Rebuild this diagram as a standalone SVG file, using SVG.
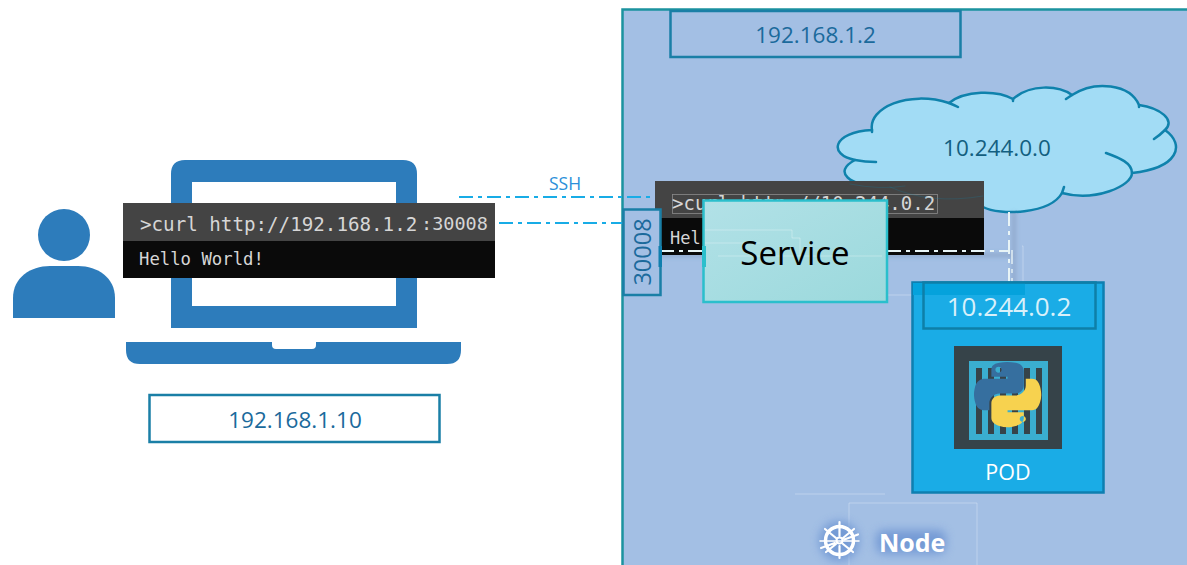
<svg xmlns="http://www.w3.org/2000/svg" width="1187" height="565" viewBox="0 0 1187 565">
<style>
text{font-family:"Open Sans","Noto Sans","Liberation Sans",sans-serif}
.mono{font-family:"DejaVu Sans Mono","Liberation Mono",monospace;fill:#d6d6d6}
.addr{fill:none;stroke:#1a7fa6;stroke-width:2.5}
.addrt{font-size:22.5px;fill:#1b6a9c;text-anchor:middle}
.blue{fill:#2d7cbb}
.dd{fill:none;stroke:#18ace6;stroke-width:2;stroke-dasharray:14 5 4 5}
.wd{fill:none;stroke:#e8f4f6;stroke-width:2;stroke-dasharray:14 5 4 5}
.faint{fill:none;stroke:#fff;stroke-opacity:.3;stroke-width:1}
.cl{fill:none;stroke:#0f82ac;stroke-width:2.5;stroke-linecap:round}
</style>
<defs>
<linearGradient id="svc" x1="0" y1="0" x2="1" y2="1"><stop offset="0" stop-color="#b2e1e7"/><stop offset="1" stop-color="#9bd9dc"/></linearGradient>
<filter id="glow" x="-30%" y="-50%" width="160%" height="200%"><feGaussianBlur stdDeviation="5"/></filter>
<filter id="sh" x="-10%" y="-10%" width="120%" height="130%"><feGaussianBlur stdDeviation="2"/></filter>
</defs>
<rect width="1187" height="565" fill="#fff"/>

<g id="node-host">
<rect x="622.5" y="9.5" width="570" height="570" fill="#a3bfe4" stroke="#1b939f" stroke-width="2.5"/>
<path class="faint" d="M795 494H885M849 565V503H977V565"/>
</g>

<g id="node-ip-host">
<rect class="addr" x="670.5" y="11" width="290" height="46"/>
<text class="addrt" x="815.5" y="43">192.168.1.2</text>
</g>

<g id="node-user">
<circle class="blue" cx="64" cy="235" r="26"/>
<path class="blue" d="M13 318V298C13 278 30 266 50 266H78C98 266 115 278 115 298V318Z"/>
</g>

<g id="node-laptop">
<path class="blue" fill-rule="evenodd" d="M171 328V174Q171 160 185 160H403Q417 160 417 174V328ZM192 182V306H396V182Z"/>
<path class="blue" d="M126 342H272V345Q272 349 276 349H312Q316 349 316 345V342H461V350Q461 364 447 364H140Q126 364 126 350Z"/>
</g>

<g id="node-terminal-client">
<rect x="123" y="203" width="372" height="38" fill="#444"/>
<rect x="123" y="241" width="372" height="37" fill="#0a0a0a"/>
<text class="mono" x="140" y="231" font-size="19.200">&gt;curl http://192.168.1.2</text>
<text class="mono" x="421" y="230" font-size="18.500">:30008</text>
<text class="mono" x="139" y="265" font-size="17.300">Hello World!</text>
</g>

<g id="node-ip-client">
<rect class="addr" x="149.5" y="395" width="290" height="47"/>
<text class="addrt" x="295" y="428">192.168.1.10</text>
</g>

<g id="node-cloud">
<path d="M872 130C868 108 908 90 949 103C965 90 997 90 1013 99C1030 84 1058 85 1072 95C1095 80 1130 84 1139 105C1160 108 1176 120 1165 130C1186 145 1178 168 1132 173C1132 186 1095 202 1062 193C1050 214 1000 216 983 207C940 214 900 206 880 186C850 186 832 172 855 160C828 155 832 132 872 130Z" fill="#a2dcf5" stroke="#0f82ac" stroke-width="2.500" stroke-linejoin="round"/>
<path class="cl" d="M949 103Q954 105 958 107M1013 99V101M1066 99Q1069 97 1072 95M1139 105V107M1165 130Q1160 135 1154 139M1132 173C1132 163 1120 158 1106 153M1062 193Q1063 190 1064 187M855 160Q865 162 876 162M872 130L872 132"/>
<text x="997" y="156" text-anchor="middle" font-size="22.500" fill="#135f80">10.244.0.0</text>
</g>

<g id="connectors">
<path d="M660 255H1012M1014 212V285" fill="none" stroke="#5d6f8c" stroke-opacity=".28" stroke-width="4" filter="url(#sh)"/>
<path class="dd" d="M459 197H672"/>
<path class="dd" d="M499 223H623"/>
</g>

<g id="node-terminal-server">
<rect x="655" y="181" width="329" height="37" fill="#444"/>
<rect x="655" y="218" width="329" height="37" fill="#0a0a0a"/>
<rect x="672.500" y="194.500" width="265" height="19" fill="none" stroke="#8a8a8a" stroke-width=".8"/>
<text class="mono" x="672" y="210" font-size="19">&gt;curl http://10.244.0.2</text>
<text class="mono" x="670" y="244" font-size="17">Hel</text>
<path class="cl" style="stroke-width:.6;opacity:.4" d="M850 184Q880 190 905 186M890 187Q930 205 983 196"/>
</g>

<g id="connectors-internal">
<path class="wd" d="M660 251H703"/>
<path class="wd" d="M887 251H1010"/>
<path class="wd" d="M1009 212V285"/>
<path class="wd" style="stroke-opacity:.7" d="M1012 250V285"/>
<path class="faint" d="M1022 246H1023V285M887 295H912"/>
</g>

<g id="node-port">
<rect x="623.500" y="209.500" width="37" height="85.500" fill="#a3bfe4" stroke="#1a7fa6" stroke-width="2.500"/>
<rect x="658.500" y="246" width="3.500" height="21" fill="#0f7fae"/>
<text transform="translate(650.500 252) rotate(-90)" text-anchor="middle" font-size="23.500" fill="#1b6a9c">30008</text>
</g>

<g id="node-service">
<rect x="703.500" y="200.500" width="183.500" height="101.500" fill="url(#svc)" stroke="#2bbfcc" stroke-width="2.500"/>
<rect x="702" y="246" width="4" height="21" fill="#2bbfcc"/>
<path class="faint" d="M705 230H792V238H800V256M705 243H760M718 256H882"/>
<text x="795" y="265" text-anchor="middle" font-size="33" fill="#000">Service</text>
</g>

<g id="node-pod">
<rect x="912.500" y="282.500" width="191" height="210" fill="#1aace6" stroke="#0e7fb0" stroke-width="2.500"/>
<rect x="913" y="283" width="112" height="12" fill="#05a2dc"/>
<rect x="923.500" y="282.500" width="172" height="46" fill="none" stroke="#0e7fa8" stroke-width="2.500"/>
<text x="1009" y="316" text-anchor="middle" font-size="26" fill="#d8f0fa">10.244.0.2</text>
<rect x="954" y="346" width="108" height="103" fill="#364349"/>
<rect x="969" y="361" width="79" height="79" fill="#3aaed0"/>
<path d="M976 368h6v66h-6zM988 368h6v66h-6zM1000 368h6v66h-6zM1012 368h6v66h-6zM1024 368h6v66h-6zM1036 368h6v66h-6z" fill="#364349"/>
<g transform="translate(974 362) scale(.605 .58)">
<path fill="#366f9f" fill-rule="evenodd" d="M54.900 0C50.300 0 46 .4 42.100 1.100C30.800 3.100 28.700 7.300 28.700 15V25.300H55.500V28.700H18.600C10.800 28.700 4 33.300 1.900 42.300C-.6 52.500-.7 58.800 1.900 69.500C3.800 77.400 8.300 83.100 16.100 83.100H25.400V70.800C25.400 62 33 54.200 42.100 54.200H68.900C76.300 54.200 82.300 48.100 82.300 40.600V15C82.300 7.800 76.200 2.300 68.900 1.100C64.300.3 59.500 0 54.900 0ZM40.400 8.200C43.200 8.200 45.500 10.500 45.500 13.300C45.500 16.200 43.200 18.400 40.400 18.400C37.600 18.400 35.400 16.200 35.400 13.300C35.400 10.500 37.600 8.200 40.400 8.200Z"/>
<path fill="#f7d24f" fill-rule="evenodd" d="M85.600 28.700V40.600C85.600 49.800 77.800 57.600 68.900 57.600H42.100C34.800 57.600 28.700 63.800 28.700 71.200V96.700C28.700 104 35 108.300 42.100 110.300C50.600 112.800 58.700 113.300 68.900 110.300C75.600 108.400 82.300 104.500 82.300 96.700V86.500H55.500V83.100H95.700C103.500 83.100 106.400 77.700 109.100 69.500C111.900 61.100 111.800 53 109.100 42.300C107.200 34.500 103.500 28.700 95.700 28.700ZM80.600 93.300C83.400 93.300 85.700 95.600 85.700 98.400C85.700 101.200 83.400 103.500 80.600 103.500C77.900 103.500 75.600 101.200 75.600 98.400C75.600 95.600 77.900 93.300 80.600 93.300Z"/>
</g>
<text x="1008" y="480" text-anchor="middle" font-size="21.500" fill="#fff">POD</text>
</g>

<g id="node-label">
<circle cx="839" cy="541" r="20" fill="#6b93d2" opacity=".8" filter="url(#glow)"/>
<rect x="876" y="530" width="70" height="24" rx="8" fill="#6b93d2" opacity=".8" filter="url(#glow)"/>
<g fill="none" stroke="#fff">
<circle cx="839.500" cy="540.500" r="14" stroke-width="3.500"/>
<circle cx="839.500" cy="540.500" r="3" stroke-width="2"/>
<path stroke-width="2.200" stroke-linecap="round" d="M839.500 522V536M839.500 546V558M821 548L834.800 543M844.300 539.500L858 534.500M825 529L836 538M843 544L853 552M854 529L843 538M836 544L826 552"/>
<path stroke-width="1.500" stroke-linecap="round" d="M820 541H859"/>
</g>
<text x="879" y="552" font-size="25" font-weight="700" fill="#fff">Node</text>
</g>

<g id="label-ssh">
<text x="565" y="190" text-anchor="middle" font-size="17.500" fill="#2b8fd9">SSH</text>
</g>
</svg>
